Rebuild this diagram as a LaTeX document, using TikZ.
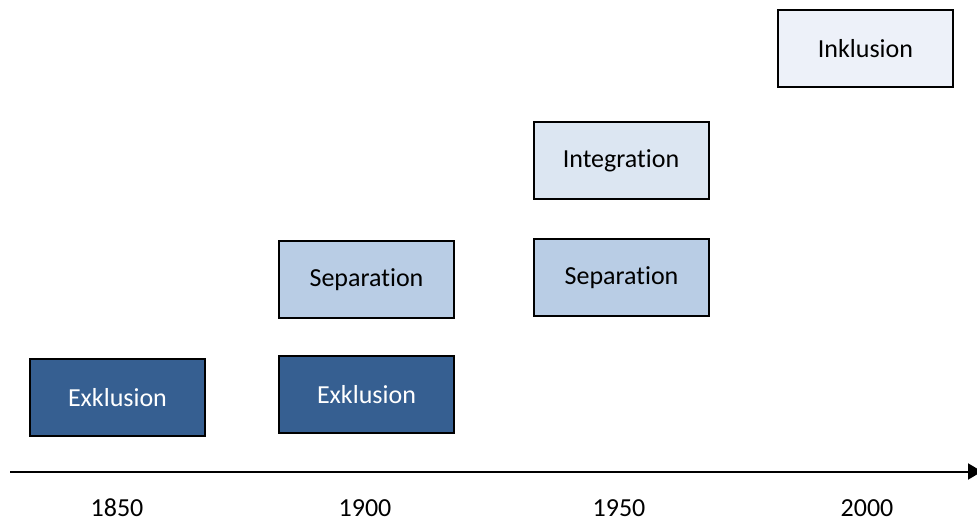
\documentclass[tikz,border=0pt]{standalone}
\usepackage{fontspec}
\setmainfont{Carlito}[Ligatures=NoCommon]
\usetikzlibrary{arrows.meta}
\definecolor{exklusion}{RGB}{54,95,145}
\definecolor{separation}{RGB}{185,205,229}
\definecolor{integration}{RGB}{220,230,242}
\definecolor{inklusion}{RGB}{237,241,249}
\begin{document}
\begin{tikzpicture}[x=0.5pt,y=0.5pt,
    phase/.style={draw=black,line width=1pt,minimum width=87.5pt,minimum height=38.5pt,
      inner sep=0pt,font=\fontsize{13}{15}\selectfont},
    year/.style={inner sep=0pt,font=\fontsize{13}{15}\selectfont}]
      \useasboundingbox (0,0) rectangle (977,519);

      \node[phase,fill=exklusion,text=white] (exkl1) at (117.5,121.5) {Exklusion};
      \node[phase,fill=exklusion,text=white] (exkl2) at (366.5,124.5) {Exklusion};
      \node[phase,fill=separation] (sep1) at (366.5,239) {Separation};
      \node[phase,fill=separation] (sep2) at (621.5,241.5) {Separation};
      \node[phase,fill=integration] (integ) at (621,358.5) {Integration};
      \node[phase,fill=inklusion] (inkl) at (865.5,470.5) {Inklusion};

      % time axis
      \coordinate (tstart) at (10,47.5);
      \coordinate (tend) at (982,47.5);
      \draw[line width=1pt,-{Triangle[length=7pt,width=8pt]}] (tstart) -- (tend);

      \node[year] (y1850) at (117,11) {1850};
      \node[year] (y1900) at (365,11) {1900};
      \node[year] (y1950) at (619,11) {1950};
      \node[year] (y2000) at (867,11) {2000};
    \end{tikzpicture}
\end{document}
